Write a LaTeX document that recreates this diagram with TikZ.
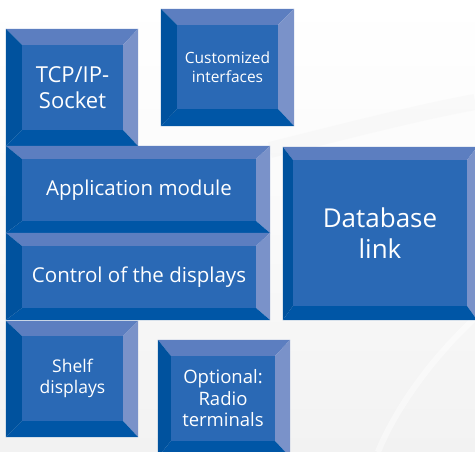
\documentclass[tikz,border=0pt]{standalone}
\usepackage{fontspec}
\setmainfont{Open Sans}
\usepackage{tikz}
\definecolor{faceBlue}{RGB}{42,105,181}
\definecolor{bevTopBlue}{RGB}{92,126,192}
\definecolor{bevRightBlue}{RGB}{122,146,201}
\definecolor{bevDarkBlue}{RGB}{0,86,166}
\definecolor{bgGray}{RGB}{242,242,242}
\tikzset{
  faceBox/.style={rectangle,fill=faceBlue,text=white,align=center,inner sep=0pt},
  bevTop/.style={fill=bevTopBlue},
  bevRight/.style={fill=bevRightBlue},
  bevBottom/.style={fill=bevDarkBlue},
  bevLeft/.style={fill=bevDarkBlue!95!black},
}
% bevel round a face node: name, left, top, right, bottom
\newcommand{\bevelAround}[5]{%
  \coordinate (#1-nw) at ([shift={(-#2pt,#3pt)}]#1.north west);
  \coordinate (#1-ne) at ([shift={(#4pt,#3pt)}]#1.north east);
  \coordinate (#1-se) at ([shift={(#4pt,-#5pt)}]#1.south east);
  \coordinate (#1-sw) at ([shift={(-#2pt,-#5pt)}]#1.south west);
  \fill[bevTop] (#1-nw)--(#1-ne)--(#1.north east)--(#1.north west)--cycle;
  \fill[bevRight] (#1-ne)--(#1-se)--(#1.south east)--(#1.north east)--cycle;
  \fill[bevBottom] (#1-se)--(#1-sw)--(#1.south west)--(#1.south east)--cycle;
  \fill[bevLeft] (#1-sw)--(#1-nw)--(#1.north west)--(#1.south west)--cycle;
}

\begin{document}
\begin{tikzpicture}[x=1pt,y=-1pt]
  \useasboundingbox (0,0) rectangle (475,452);
  \clip (0,0) rectangle (475,452);
  \shade[top color=white,bottom color=bgGray,middle color=white!60!bgGray] (0,0) rectangle (475,452);
  \draw[gray!10,line width=16pt,opacity=.35] (270,150) .. controls (350,130) and (420,112) .. (475,102);
  \draw[white,line width=6pt,opacity=.45] (475,318) .. controls (430,360) and (395,410) .. (378,452);

  \node[faceBox,minimum width=101pt,minimum height=85pt,
        font=\fontsize{22}{26}\selectfont] (tcp) at (72.5,87.5) {TCP/IP-\\Socket};
  \node[faceBox,minimum width=101pt,minimum height=84pt,
        font=\fontsize{15.5}{19}\selectfont] (cust) at (227.5,67) {Customized\\interfaces};
  \node[faceBox,minimum width=234pt,minimum height=62pt,
        font=\fontsize{20.5}{24}\selectfont] (app) at (139,190) {Application module};
  \node[faceBox,minimum width=234pt,minimum height=62pt,
        font=\fontsize{20.5}{24}\selectfont] (ctrl) at (139,277) {Control of the displays};
  \node[faceBox,minimum width=174pt,minimum height=146pt,
        font=\fontsize{26}{30.5}\selectfont] (db) at (380,233) {Database\\link};
  \node[faceBox,minimum width=101pt,minimum height=85pt,
        font=\fontsize{17.5}{21}\selectfont] (shelf) at (72.5,378.5) {Shelf\\displays};
  \node[faceBox,minimum width=104pt,minimum height=85pt,
        font=\fontsize{18.5}{21.5}\selectfont] (radio) at (223,398.5) {Optional:\\Radio\\terminals};

  \bevelAround{tcp}{16}{16}{15}{16}
  \bevelAround{cust}{16}{16}{16}{17}
  \bevelAround{app}{16}{13}{14}{12}
  \bevelAround{ctrl}{16}{13}{14}{12}
  \bevelAround{db}{10}{13}{10}{14}
  \bevelAround{shelf}{16}{15}{15}{16}
  \bevelAround{radio}{13}{16}{15}{16}
\end{tikzpicture}
\end{document}
